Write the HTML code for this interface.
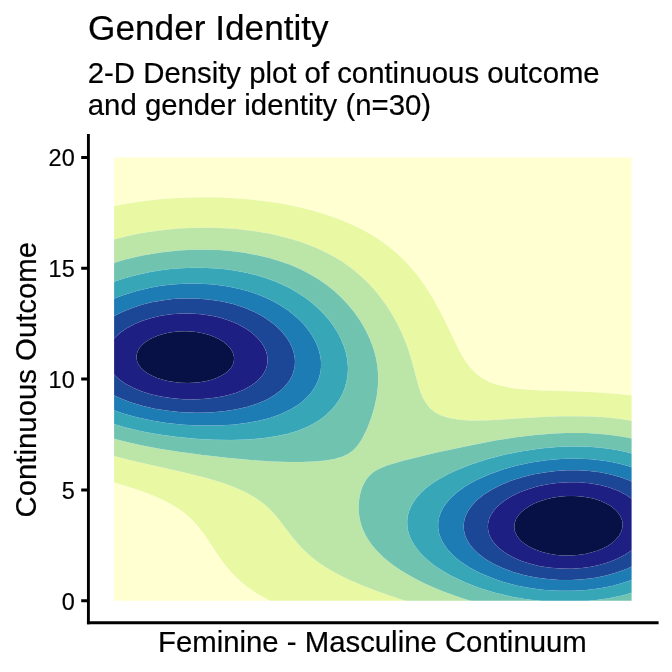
<!DOCTYPE html>
<html><head><meta charset="utf-8"><title>Gender Identity</title>
<style>
html,body{margin:0;padding:0;background:#fff}
body{width:672px;height:672px;overflow:hidden}
svg{display:block;font-family:"Liberation Sans",Arial,Helvetica,sans-serif;fill:#000}
text{stroke:#000;stroke-width:0.2px;stroke-linejoin:round}
</style></head><body>
<svg width="672" height="672" viewBox="0 0 672 672">
<rect width="672" height="672" fill="#fff"/>
<defs><clipPath id="c"><rect x="114.1" y="157.5" width="517.5" height="443.29999999999995"/></clipPath></defs>
<text x="88.1" y="40.2" font-size="35.2" stroke-width="0.3">Gender Identity</text>
<text x="87.8" y="83.4" font-size="29.33">2-D Density plot of continuous outcome</text>
<text x="87.8" y="114.8" font-size="29.33">and gender identity (n=30)</text>
<g clip-path="url(#c)" fill-rule="evenodd">
<path fill="#FFFFD1" d="M94.1,137.5H651.6V620.8H94.1ZM177.3,198.0 190.6,197.5 205.6,197.3 220.6,197.6 234.1,198.2 247.6,199.3 261.1,200.7 273.1,202.3 286.6,204.6 300.1,207.4 310.6,210.0 322.6,213.5 333.1,217.0 343.6,221.0 352.6,224.9 361.6,229.3 370.6,234.3 377.3,238.5 383.9,243.0 389.8,247.5 395.3,252.0 400.6,256.8 406.3,262.5 415.5,273.0 420.1,279.0 425.4,286.5 430.2,294.0 434.6,301.5 443.4,318.0 459.1,350.3 462.8,357.0 466.6,362.9 471.5,369.0 477.1,374.4 483.1,378.7 487.4,381.0 490.6,382.5 496.6,384.6 504.1,386.6 513.1,388.2 522.1,389.3 540.1,390.4 579.1,391.5 598.6,392.4 618.1,393.9 636.1,396.1 636.8,438.0 637.2,486.0 637.2,555.0 636.8,606.0 636.1,606.7 565.6,606.9 282.3,606.0 275.1,603.0 268.7,600.0 257.8,594.0 247.6,587.1 243.1,583.5 238.0,579.0 230.6,571.5 223.3,562.5 218.0,555.0 205.1,535.5 198.3,526.5 194.4,522.0 189.8,517.5 186.4,514.5 181.6,510.8 176.0,507.0 170.9,504.0 163.6,500.2 155.5,496.5 148.1,493.5 135.6,489.0 109.6,480.8 108.7,426.0 108.5,357.0 108.8,276.0 109.6,207.1 126.1,203.8 141.1,201.4 159.1,199.3 177.3,198.0Z"/>
<path fill="#E8F8A3" d="M177.3,198.0 190.6,197.5 205.6,197.3 220.6,197.6 234.1,198.2 247.6,199.3 261.1,200.7 273.1,202.3 286.6,204.6 300.1,207.4 310.6,210.0 322.6,213.5 333.1,217.0 343.6,221.0 352.6,224.9 361.6,229.3 370.6,234.3 377.3,238.5 383.9,243.0 389.8,247.5 395.3,252.0 400.6,256.8 406.3,262.5 415.5,273.0 420.1,279.0 425.4,286.5 430.2,294.0 434.6,301.5 443.4,318.0 459.1,350.3 462.8,357.0 466.6,362.9 471.5,369.0 477.1,374.4 483.1,378.7 487.4,381.0 490.6,382.5 496.6,384.6 504.1,386.6 513.1,388.2 522.1,389.3 540.1,390.4 579.1,391.5 598.6,392.4 618.1,393.9 636.1,396.1 636.8,438.0 637.2,486.0 637.2,555.0 636.8,606.0 636.1,606.7 565.6,606.9 282.3,606.0 275.1,603.0 268.7,600.0 257.8,594.0 247.6,587.1 243.1,583.5 238.0,579.0 230.6,571.5 223.3,562.5 218.0,555.0 205.1,535.5 198.3,526.5 194.4,522.0 189.8,517.5 186.4,514.5 181.6,510.8 176.0,507.0 170.9,504.0 163.6,500.2 155.5,496.5 148.1,493.5 135.6,489.0 109.6,480.8 108.7,426.0 108.5,357.0 108.8,276.0 109.6,207.1 126.1,203.8 141.1,201.4 159.1,199.3 177.3,198.0ZM188.9,228.0 201.1,227.7 213.1,227.8 225.1,228.2 237.1,229.1 249.1,230.4 259.6,231.9 270.1,233.8 280.6,236.2 291.1,238.9 300.1,241.7 309.1,245.0 318.1,248.7 327.1,253.0 334.6,257.0 342.1,261.6 349.8,267.0 355.6,271.5 361.6,276.7 367.2,282.0 372.1,287.2 376.7,292.5 381.4,298.5 385.8,304.5 390.7,312.0 395.0,319.5 399.0,327.0 402.4,334.5 406.1,343.5 408.8,351.0 411.6,360.0 418.8,387.0 420.8,393.0 423.1,398.2 426.2,403.5 428.5,406.5 430.6,408.7 435.5,412.5 441.1,415.4 447.1,417.4 453.1,418.8 460.6,419.8 469.6,420.4 478.6,420.5 489.1,420.2 546.1,416.8 561.1,416.3 576.1,416.2 592.6,416.6 607.6,417.6 622.6,419.3 636.1,421.5 636.8,460.5 637.1,508.5 637.0,564.0 636.5,606.0 636.1,606.4 565.6,606.5 421.9,606.0 405.1,600.8 390.1,595.8 376.8,591.0 363.1,585.7 350.8,580.5 341.3,576.0 332.9,571.5 325.3,567.0 318.6,562.5 312.7,558.0 307.5,553.5 301.6,547.7 293.5,538.5 277.3,517.5 273.4,513.0 268.6,508.1 263.9,504.0 257.9,499.5 250.7,495.0 244.6,491.8 235.6,487.7 227.2,484.5 218.3,481.5 205.6,477.8 184.4,472.5 133.6,461.1 109.6,455.0 108.9,412.5 108.7,357.0 108.9,295.5 109.6,240.8 118.6,238.3 127.6,236.0 138.1,233.8 148.6,232.0 168.1,229.5 178.6,228.6 188.9,228.0Z"/>
<path fill="#BCE6A7" d="M188.9,228.0 201.1,227.7 213.1,227.8 225.1,228.2 237.1,229.1 249.1,230.4 259.6,231.9 270.1,233.8 280.6,236.2 291.1,238.9 300.1,241.7 309.1,245.0 318.1,248.7 327.1,253.0 334.6,257.0 342.1,261.6 349.8,267.0 355.6,271.5 361.6,276.7 367.2,282.0 372.1,287.2 376.7,292.5 381.4,298.5 385.8,304.5 390.7,312.0 395.0,319.5 399.0,327.0 402.4,334.5 406.1,343.5 408.8,351.0 411.6,360.0 418.8,387.0 420.8,393.0 423.1,398.2 426.2,403.5 428.5,406.5 430.6,408.7 435.5,412.5 441.1,415.4 447.1,417.4 453.1,418.8 460.6,419.8 469.6,420.4 478.6,420.5 489.1,420.2 546.1,416.8 561.1,416.3 576.1,416.2 592.6,416.6 607.6,417.6 622.6,419.3 636.1,421.5 636.8,460.5 637.1,508.5 637.0,564.0 636.5,606.0 636.1,606.4 565.6,606.5 421.9,606.0 405.1,600.8 390.1,595.8 376.8,591.0 363.1,585.7 350.8,580.5 341.3,576.0 332.9,571.5 325.3,567.0 318.6,562.5 312.7,558.0 307.5,553.5 301.6,547.7 293.5,538.5 277.3,517.5 273.4,513.0 268.6,508.1 263.9,504.0 257.9,499.5 250.7,495.0 244.6,491.8 235.6,487.7 227.2,484.5 218.3,481.5 205.6,477.8 184.4,472.5 133.6,461.1 109.6,455.0 108.9,412.5 108.7,357.0 108.9,295.5 109.6,240.8 118.6,238.3 127.6,236.0 138.1,233.8 148.6,232.0 168.1,229.5 178.6,228.6 188.9,228.0ZM178.4,250.5 192.1,249.8 205.6,249.7 219.1,250.1 231.1,251.1 244.6,252.8 256.6,255.0 268.6,257.8 279.1,260.9 289.6,264.6 300.1,269.1 309.1,273.7 318.1,279.0 326.8,285.0 334.3,291.0 340.8,297.0 348.1,304.7 354.1,312.0 360.4,321.0 365.6,330.0 369.9,339.0 373.3,348.0 375.8,357.0 377.4,366.0 378.2,375.0 378.0,385.5 376.8,396.0 374.6,406.5 371.6,417.0 367.0,429.0 362.5,438.0 360.1,442.0 357.6,445.5 355.6,447.8 352.6,450.7 348.1,453.9 342.1,456.7 334.6,459.0 325.6,460.6 315.1,461.6 301.6,462.1 288.1,462.1 271.6,461.4 250.6,460.0 226.6,457.7 202.6,455.0 178.6,451.8 159.1,448.7 141.1,445.3 124.6,441.6 109.6,437.6 109.0,402.0 108.8,357.0 109.0,309.0 109.6,264.4 117.1,261.9 126.1,259.3 142.6,255.4 160.6,252.4 178.4,250.5ZM553.9,433.5 565.6,433.0 576.1,432.9 586.6,433.1 597.1,433.7 606.1,434.5 616.6,435.8 627.1,437.5 636.1,439.4 636.7,477.0 636.9,525.0 636.7,570.0 636.1,605.4 633.8,606.0 610.6,606.1 490.8,606.0 481.6,603.8 471.1,600.9 462.1,598.2 451.6,594.6 442.0,591.0 433.6,587.5 424.6,583.4 415.8,579.0 407.7,574.5 400.3,570.0 393.7,565.5 387.8,561.0 382.6,556.5 378.0,552.0 372.7,546.0 369.4,541.5 365.7,535.5 363.5,531.0 361.8,526.5 360.4,522.0 359.2,516.0 358.7,511.5 358.6,505.5 359.0,501.0 359.6,496.5 360.7,492.0 362.1,487.5 364.2,483.0 366.0,480.0 368.2,477.0 371.2,474.0 373.6,472.1 377.7,469.5 382.6,467.2 388.4,465.0 403.8,460.5 436.6,452.6 471.1,445.2 495.1,440.6 516.1,437.3 535.6,434.9 553.9,433.5Z"/>
<path fill="#70C4AF" d="M178.4,250.5 192.1,249.8 205.6,249.7 219.1,250.1 231.1,251.1 244.6,252.8 256.6,255.0 268.6,257.8 279.1,260.9 289.6,264.6 300.1,269.1 309.1,273.7 318.1,279.0 326.8,285.0 334.3,291.0 340.8,297.0 348.1,304.7 354.1,312.0 360.4,321.0 365.6,330.0 369.9,339.0 373.3,348.0 375.8,357.0 377.4,366.0 378.2,375.0 378.0,385.5 376.8,396.0 374.6,406.5 371.6,417.0 367.0,429.0 362.5,438.0 360.1,442.0 357.6,445.5 355.6,447.8 352.6,450.7 348.1,453.9 342.1,456.7 334.6,459.0 325.6,460.6 315.1,461.6 301.6,462.1 288.1,462.1 271.6,461.4 250.6,460.0 226.6,457.7 202.6,455.0 178.6,451.8 159.1,448.7 141.1,445.3 124.6,441.6 109.6,437.6 109.0,402.0 108.8,357.0 109.0,309.0 109.6,264.4 117.1,261.9 126.1,259.3 142.6,255.4 160.6,252.4 178.4,250.5ZM553.9,433.5 565.6,433.0 576.1,432.9 586.6,433.1 597.1,433.7 606.1,434.5 616.6,435.8 627.1,437.5 636.1,439.4 636.7,477.0 636.9,525.0 636.7,570.0 636.1,605.4 633.8,606.0 610.6,606.1 490.8,606.0 481.6,603.8 471.1,600.9 462.1,598.2 451.6,594.6 442.0,591.0 433.6,587.5 424.6,583.4 415.8,579.0 407.7,574.5 400.3,570.0 393.7,565.5 387.8,561.0 382.6,556.5 378.0,552.0 372.7,546.0 369.4,541.5 365.7,535.5 363.5,531.0 361.8,526.5 360.4,522.0 359.2,516.0 358.7,511.5 358.6,505.5 359.0,501.0 359.6,496.5 360.7,492.0 362.1,487.5 364.2,483.0 366.0,480.0 368.2,477.0 371.2,474.0 373.6,472.1 377.7,469.5 382.6,467.2 388.4,465.0 403.8,460.5 436.6,452.6 471.1,445.2 495.1,440.6 516.1,437.3 535.6,434.9 553.9,433.5ZM176.5,268.5 186.1,267.9 196.6,267.7 207.1,267.9 217.6,268.5 228.1,269.6 237.1,271.0 247.6,273.0 256.6,275.3 265.6,278.0 274.6,281.2 282.1,284.4 289.6,288.1 297.1,292.4 304.2,297.0 310.6,301.8 316.6,306.9 323.3,313.5 328.6,319.5 333.1,325.5 337.6,332.6 340.9,339.0 344.0,346.5 345.9,352.5 347.4,360.0 348.0,367.5 347.8,373.5 346.7,381.0 345.1,387.0 342.8,393.0 339.7,399.0 336.1,404.3 331.8,409.5 325.5,415.5 321.7,418.5 317.3,421.5 309.1,426.1 304.6,428.1 298.6,430.5 288.1,433.7 276.1,436.3 262.6,438.3 249.1,439.4 231.1,440.0 213.1,439.7 195.1,438.7 175.6,436.8 157.6,434.3 141.1,431.2 124.6,427.3 109.6,422.8 109.2,393.0 109.0,357.0 109.2,319.5 109.6,283.5 117.1,280.7 124.6,278.2 133.6,275.7 141.1,273.9 150.1,272.0 159.1,270.5 168.1,269.3 176.5,268.5ZM557.3,447.0 567.1,446.6 577.6,446.5 588.1,446.8 598.6,447.6 609.1,448.8 618.1,450.3 627.1,452.2 636.1,454.5 636.6,487.5 636.7,525.0 636.6,561.0 636.1,591.6 622.6,595.4 607.6,598.5 592.6,600.6 576.1,601.9 559.6,602.0 543.1,601.2 526.6,599.3 511.6,596.7 495.1,592.8 480.1,588.2 466.6,583.1 453.1,576.8 447.1,573.6 441.2,570.0 435.1,565.9 430.6,562.5 427.1,559.5 422.3,555.0 419.6,552.0 416.0,547.5 413.0,543.0 411.4,540.0 409.5,535.5 408.1,531.0 407.4,526.5 407.2,522.0 407.5,517.5 408.1,514.5 409.0,511.5 410.7,507.0 413.2,502.5 415.6,499.0 418.9,495.0 421.8,492.0 426.1,488.1 430.7,484.5 435.1,481.5 441.1,477.9 448.3,474.0 454.7,471.0 469.5,465.0 486.1,459.5 504.1,454.8 522.1,451.2 540.1,448.5 557.3,447.0Z"/>
<path fill="#37A7B8" d="M176.5,268.5 186.1,267.9 196.6,267.7 207.1,267.9 217.6,268.5 228.1,269.6 237.1,271.0 247.6,273.0 256.6,275.3 265.6,278.0 274.6,281.2 282.1,284.4 289.6,288.1 297.1,292.4 304.2,297.0 310.6,301.8 316.6,306.9 323.3,313.5 328.6,319.5 333.1,325.5 337.6,332.6 340.9,339.0 344.0,346.5 345.9,352.5 347.4,360.0 348.0,367.5 347.8,373.5 346.7,381.0 345.1,387.0 342.8,393.0 339.7,399.0 336.1,404.3 331.8,409.5 325.5,415.5 321.7,418.5 317.3,421.5 309.1,426.1 304.6,428.1 298.6,430.5 288.1,433.7 276.1,436.3 262.6,438.3 249.1,439.4 231.1,440.0 213.1,439.7 195.1,438.7 175.6,436.8 157.6,434.3 141.1,431.2 124.6,427.3 109.6,422.8 109.2,393.0 109.0,357.0 109.2,319.5 109.6,283.5 117.1,280.7 124.6,278.2 133.6,275.7 141.1,273.9 150.1,272.0 159.1,270.5 168.1,269.3 176.5,268.5ZM557.3,447.0 567.1,446.6 577.6,446.5 588.1,446.8 598.6,447.6 609.1,448.8 618.1,450.3 627.1,452.2 636.1,454.5 636.6,487.5 636.7,525.0 636.6,561.0 636.1,591.6 622.6,595.4 607.6,598.5 592.6,600.6 576.1,601.9 559.6,602.0 543.1,601.2 526.6,599.3 511.6,596.7 495.1,592.8 480.1,588.2 466.6,583.1 453.1,576.8 447.1,573.6 441.2,570.0 435.1,565.9 430.6,562.5 427.1,559.5 422.3,555.0 419.6,552.0 416.0,547.5 413.0,543.0 411.4,540.0 409.5,535.5 408.1,531.0 407.4,526.5 407.2,522.0 407.5,517.5 408.1,514.5 409.0,511.5 410.7,507.0 413.2,502.5 415.6,499.0 418.9,495.0 421.8,492.0 426.1,488.1 430.7,484.5 435.1,481.5 441.1,477.9 448.3,474.0 454.7,471.0 469.5,465.0 486.1,459.5 504.1,454.8 522.1,451.2 540.1,448.5 557.3,447.0ZM167.5,285.0 175.6,284.2 184.6,283.7 193.6,283.5 201.1,283.7 210.1,284.2 217.6,285.0 226.6,286.3 234.1,287.7 241.6,289.4 249.1,291.5 256.6,294.0 264.1,297.0 270.1,299.7 276.4,303.0 282.1,306.4 288.2,310.5 293.9,315.0 299.0,319.5 303.4,324.0 308.3,330.0 312.1,335.5 314.9,340.5 317.0,345.0 319.1,351.0 320.5,357.0 321.0,361.5 321.0,367.5 320.5,372.0 319.0,378.0 317.2,382.5 314.9,387.0 311.9,391.5 309.5,394.5 306.1,398.1 303.1,400.9 298.6,404.4 290.4,409.5 281.0,414.0 270.1,417.9 259.6,420.6 246.1,423.1 232.6,424.7 216.1,425.6 199.6,425.6 183.1,424.7 166.6,422.9 151.6,420.6 136.6,417.3 123.1,413.5 109.6,408.6 109.2,357.0 109.6,300.8 115.6,298.1 123.1,295.2 136.6,290.9 151.6,287.4 159.1,286.1 167.5,285.0ZM560.3,459.0 570.1,458.6 580.6,458.7 591.1,459.3 600.1,460.2 609.1,461.5 618.6,463.5 627.1,465.7 636.1,468.7 636.5,525.0 636.1,578.4 624.1,582.6 612.1,585.9 600.1,588.2 586.6,590.0 573.1,590.8 559.6,590.8 544.6,589.9 531.1,588.2 517.6,585.7 504.1,582.2 492.1,578.1 480.1,573.1 469.6,567.5 460.6,561.5 456.1,558.0 452.8,555.0 447.3,549.0 443.2,543.0 441.6,540.0 439.8,535.5 438.9,532.5 438.2,528.0 438.2,523.5 438.5,520.5 439.1,517.5 440.6,513.0 442.6,508.8 444.6,505.5 448.1,501.0 450.8,498.0 457.5,492.0 465.9,486.0 470.9,483.0 477.1,479.7 489.1,474.4 502.6,469.6 516.1,465.7 531.1,462.5 546.1,460.3 560.3,459.0Z"/>
<path fill="#1D7CB3" d="M167.5,285.0 175.6,284.2 184.6,283.7 193.6,283.5 201.1,283.7 210.1,284.2 217.6,285.0 226.6,286.3 234.1,287.7 241.6,289.4 249.1,291.5 256.6,294.0 264.1,297.0 270.1,299.7 276.4,303.0 282.1,306.4 288.2,310.5 293.9,315.0 299.0,319.5 303.4,324.0 308.3,330.0 312.1,335.5 314.9,340.5 317.0,345.0 319.1,351.0 320.5,357.0 321.0,361.5 321.0,367.5 320.5,372.0 319.0,378.0 317.2,382.5 314.9,387.0 311.9,391.5 309.5,394.5 306.1,398.1 303.1,400.9 298.6,404.4 290.4,409.5 281.0,414.0 270.1,417.9 259.6,420.6 246.1,423.1 232.6,424.7 216.1,425.6 199.6,425.6 183.1,424.7 166.6,422.9 151.6,420.6 136.6,417.3 123.1,413.5 109.6,408.6 109.2,357.0 109.6,300.8 115.6,298.1 123.1,295.2 136.6,290.9 151.6,287.4 159.1,286.1 167.5,285.0ZM560.3,459.0 570.1,458.6 580.6,458.7 591.1,459.3 600.1,460.2 609.1,461.5 618.6,463.5 627.1,465.7 636.1,468.7 636.5,525.0 636.1,578.4 624.1,582.6 612.1,585.9 600.1,588.2 586.6,590.0 573.1,590.8 559.6,590.8 544.6,589.9 531.1,588.2 517.6,585.7 504.1,582.2 492.1,578.1 480.1,573.1 469.6,567.5 460.6,561.5 456.1,558.0 452.8,555.0 447.3,549.0 443.2,543.0 441.6,540.0 439.8,535.5 438.9,532.5 438.2,528.0 438.2,523.5 438.5,520.5 439.1,517.5 440.6,513.0 442.6,508.8 444.6,505.5 448.1,501.0 450.8,498.0 457.5,492.0 465.9,486.0 470.9,483.0 477.1,479.7 489.1,474.4 502.6,469.6 516.1,465.7 531.1,462.5 546.1,460.3 560.3,459.0ZM181.9,298.5 195.1,298.4 208.6,299.4 222.1,301.5 234.1,304.3 244.6,307.8 255.1,312.3 260.2,315.0 265.3,318.0 273.6,324.0 277.6,327.5 281.6,331.5 285.1,335.7 287.5,339.0 289.6,342.5 291.6,346.5 292.8,349.5 294.1,354.0 294.8,358.5 295.0,361.5 294.8,366.0 294.2,369.0 292.9,373.5 291.7,376.5 289.6,380.2 286.9,384.0 284.3,387.0 281.2,390.0 274.6,395.0 267.1,399.4 257.6,403.5 247.6,406.7 235.6,409.5 223.6,411.3 210.1,412.4 196.6,412.7 181.6,412.2 168.1,410.8 154.6,408.7 141.1,405.6 129.6,402.0 118.6,397.6 109.6,393.0 109.4,357.0 109.6,318.7 117.1,314.4 124.6,310.9 133.6,307.4 142.6,304.6 151.6,302.3 162.1,300.4 172.6,299.1 181.9,298.5ZM556.0,471.0 567.1,470.3 579.1,470.3 589.6,471.0 600.1,472.3 610.6,474.4 619.6,476.9 628.3,480.0 636.1,483.6 636.4,525.0 636.1,564.4 627.1,568.7 616.6,572.6 606.1,575.6 595.6,577.7 583.6,579.3 571.6,580.0 559.6,580.0 547.6,579.1 535.6,577.5 523.6,575.0 513.1,572.0 502.6,568.1 493.6,563.8 488.7,561.0 484.6,558.4 478.3,553.5 475.0,550.5 472.3,547.5 469.9,544.5 468.0,541.5 466.4,538.5 465.2,535.5 464.4,532.5 463.8,529.5 463.7,526.5 463.8,523.5 464.3,520.5 465.1,517.5 466.3,514.5 467.8,511.5 469.7,508.5 472.0,505.5 474.7,502.5 477.8,499.5 484.6,494.1 492.9,489.0 501.9,484.5 511.6,480.6 522.1,477.3 532.6,474.6 544.6,472.4 556.0,471.0Z"/>
<path fill="#1C4796" d="M181.9,298.5 195.1,298.4 208.6,299.4 222.1,301.5 234.1,304.3 244.6,307.8 255.1,312.3 260.2,315.0 265.3,318.0 273.6,324.0 277.6,327.5 281.6,331.5 285.1,335.7 287.5,339.0 289.6,342.5 291.6,346.5 292.8,349.5 294.1,354.0 294.8,358.5 295.0,361.5 294.8,366.0 294.2,369.0 292.9,373.5 291.7,376.5 289.6,380.2 286.9,384.0 284.3,387.0 281.2,390.0 274.6,395.0 267.1,399.4 257.6,403.5 247.6,406.7 235.6,409.5 223.6,411.3 210.1,412.4 196.6,412.7 181.6,412.2 168.1,410.8 154.6,408.7 141.1,405.6 129.6,402.0 118.6,397.6 109.6,393.0 109.4,357.0 109.6,318.7 117.1,314.4 124.6,310.9 133.6,307.4 142.6,304.6 151.6,302.3 162.1,300.4 172.6,299.1 181.9,298.5ZM556.0,471.0 567.1,470.3 579.1,470.3 589.6,471.0 600.1,472.3 610.6,474.4 619.6,476.9 628.3,480.0 636.1,483.6 636.4,525.0 636.1,564.4 627.1,568.7 616.6,572.6 606.1,575.6 595.6,577.7 583.6,579.3 571.6,580.0 559.6,580.0 547.6,579.1 535.6,577.5 523.6,575.0 513.1,572.0 502.6,568.1 493.6,563.8 488.7,561.0 484.6,558.4 478.3,553.5 475.0,550.5 472.3,547.5 469.9,544.5 468.0,541.5 466.4,538.5 465.2,535.5 464.4,532.5 463.8,529.5 463.7,526.5 463.8,523.5 464.3,520.5 465.1,517.5 466.3,514.5 467.8,511.5 469.7,508.5 472.0,505.5 474.7,502.5 477.8,499.5 484.6,494.1 492.9,489.0 501.9,484.5 511.6,480.6 522.1,477.3 532.6,474.6 544.6,472.4 556.0,471.0ZM181.2,313.5 190.6,313.5 201.1,314.2 211.6,315.7 220.6,317.8 229.6,320.7 237.5,324.0 245.7,328.5 252.1,333.0 257.0,337.5 259.7,340.5 262.0,343.5 263.8,346.5 265.3,349.5 266.4,352.5 267.1,355.3 267.6,360.0 267.4,363.0 266.8,366.0 265.9,369.0 264.5,372.0 261.5,376.5 257.2,381.0 251.2,385.5 247.6,387.6 243.1,389.9 235.6,392.9 226.6,395.5 216.7,397.5 205.6,398.8 195.1,399.4 183.1,399.2 172.6,398.3 162.1,396.7 151.6,394.4 142.1,391.5 133.6,388.1 125.9,384.0 119.4,379.5 116.0,376.5 113.2,373.5 110.9,370.5 109.6,368.3 109.6,345.1 112.6,340.5 115.1,337.5 120.0,333.0 126.3,328.5 134.7,324.0 142.6,320.7 151.6,317.9 160.6,315.8 171.1,314.2 181.2,313.5ZM556.8,483.0 568.6,482.2 579.1,482.3 589.6,483.3 600.1,485.1 609.2,487.5 618.1,490.8 626.2,495.0 632.7,499.5 636.1,502.5 636.1,546.2 631.2,550.5 624.5,555.0 616.6,559.1 609.1,562.0 600.1,564.7 591.1,566.7 582.1,568.0 571.6,568.7 561.1,568.6 550.6,567.8 540.1,566.2 531.1,564.1 522.1,561.2 514.5,558.0 507.1,554.0 501.1,549.8 496.8,546.0 493.0,541.5 490.3,537.0 489.1,534.0 488.3,531.0 487.8,526.5 488.1,523.5 488.7,520.5 489.7,517.5 491.2,514.5 494.3,510.0 498.5,505.5 504.1,501.0 511.2,496.5 519.1,492.6 528.1,489.2 537.1,486.5 546.4,484.5 556.8,483.0Z"/>
<path fill="#1D2082" d="M181.2,313.5 190.6,313.5 201.1,314.2 211.6,315.7 220.6,317.8 229.6,320.7 237.5,324.0 245.7,328.5 252.1,333.0 257.0,337.5 259.7,340.5 262.0,343.5 263.8,346.5 265.3,349.5 266.4,352.5 267.1,355.3 267.6,360.0 267.4,363.0 266.8,366.0 265.9,369.0 264.5,372.0 261.5,376.5 257.2,381.0 251.2,385.5 247.6,387.6 243.1,389.9 235.6,392.9 226.6,395.5 216.7,397.5 205.6,398.8 195.1,399.4 183.1,399.2 172.6,398.3 162.1,396.7 151.6,394.4 142.1,391.5 133.6,388.1 125.9,384.0 119.4,379.5 116.0,376.5 113.2,373.5 110.9,370.5 109.6,368.3 109.6,345.1 112.6,340.5 115.1,337.5 120.0,333.0 126.3,328.5 134.7,324.0 142.6,320.7 151.6,317.9 160.6,315.8 171.1,314.2 181.2,313.5ZM556.8,483.0 568.6,482.2 579.1,482.3 589.6,483.3 600.1,485.1 609.2,487.5 618.1,490.8 626.2,495.0 632.7,499.5 636.1,502.5 636.1,546.2 631.2,550.5 624.5,555.0 616.6,559.1 609.1,562.0 600.1,564.7 591.1,566.7 582.1,568.0 571.6,568.7 561.1,568.6 550.6,567.8 540.1,566.2 531.1,564.1 522.1,561.2 514.5,558.0 507.1,554.0 501.1,549.8 496.8,546.0 493.0,541.5 490.3,537.0 489.1,534.0 488.3,531.0 487.8,526.5 488.1,523.5 488.7,520.5 489.7,517.5 491.2,514.5 494.3,510.0 498.5,505.5 504.1,501.0 511.2,496.5 519.1,492.6 528.1,489.2 537.1,486.5 546.4,484.5 556.8,483.0ZM177.9,331.5 184.6,331.3 190.6,331.5 196.6,332.1 202.6,333.2 208.6,334.8 214.6,337.0 219.1,339.2 223.6,342.0 227.3,345.0 230.0,348.0 232.0,351.0 233.3,354.0 234.0,357.0 234.1,358.5 233.8,361.5 232.9,364.5 231.2,367.5 228.6,370.5 225.0,373.5 220.6,376.1 216.5,378.0 211.6,379.7 205.6,381.2 199.6,382.2 193.6,382.8 187.6,383.0 180.1,382.7 174.1,382.1 167.8,381.0 162.1,379.6 157.3,378.0 151.6,375.5 147.1,372.9 143.8,370.5 140.7,367.5 138.6,364.5 137.2,361.5 136.5,358.5 136.5,355.5 136.8,354.0 137.8,351.0 139.5,348.0 142.1,345.0 145.5,342.0 150.1,339.1 154.6,336.9 159.1,335.2 165.1,333.5 171.1,332.3 177.9,331.5ZM560.8,496.5 567.1,496.0 574.6,496.0 581.6,496.5 588.1,497.5 594.1,498.8 600.7,501.0 606.1,503.4 610.6,506.0 615.1,509.6 618.3,513.0 620.3,516.0 622.1,520.5 622.6,523.5 622.3,528.0 621.1,532.0 619.2,535.5 615.4,540.0 612.1,542.9 607.6,545.9 603.1,548.3 597.9,550.5 591.1,552.6 585.1,554.0 577.6,555.0 570.1,555.5 562.6,555.4 556.6,554.9 549.1,553.7 543.1,552.3 537.1,550.3 530.7,547.5 525.7,544.5 521.8,541.5 518.9,538.5 516.8,535.5 514.8,531.0 514.3,528.0 514.5,523.5 516.1,519.0 517.9,516.0 520.6,512.8 525.1,508.9 529.6,506.0 534.1,503.6 540.1,501.2 546.1,499.3 553.6,497.6 560.8,496.5Z"/>
<path fill="#081146" d="M177.9,331.5 184.6,331.3 190.6,331.5 196.6,332.1 202.6,333.2 208.6,334.8 214.6,337.0 219.1,339.2 223.6,342.0 227.3,345.0 230.0,348.0 232.0,351.0 233.3,354.0 234.0,357.0 234.1,358.5 233.8,361.5 232.9,364.5 231.2,367.5 228.6,370.5 225.0,373.5 220.6,376.1 216.5,378.0 211.6,379.7 205.6,381.2 199.6,382.2 193.6,382.8 187.6,383.0 180.1,382.7 174.1,382.1 167.8,381.0 162.1,379.6 157.3,378.0 151.6,375.5 147.1,372.9 143.8,370.5 140.7,367.5 138.6,364.5 137.2,361.5 136.5,358.5 136.5,355.5 136.8,354.0 137.8,351.0 139.5,348.0 142.1,345.0 145.5,342.0 150.1,339.1 154.6,336.9 159.1,335.2 165.1,333.5 171.1,332.3 177.9,331.5ZM560.8,496.5 567.1,496.0 574.6,496.0 581.6,496.5 588.1,497.5 594.1,498.8 600.7,501.0 606.1,503.4 610.6,506.0 615.1,509.6 618.3,513.0 620.3,516.0 622.1,520.5 622.6,523.5 622.3,528.0 621.1,532.0 619.2,535.5 615.4,540.0 612.1,542.9 607.6,545.9 603.1,548.3 597.9,550.5 591.1,552.6 585.1,554.0 577.6,555.0 570.1,555.5 562.6,555.4 556.6,554.9 549.1,553.7 543.1,552.3 537.1,550.3 530.7,547.5 525.7,544.5 521.8,541.5 518.9,538.5 516.8,535.5 514.8,531.0 514.3,528.0 514.5,523.5 516.1,519.0 517.9,516.0 520.6,512.8 525.1,508.9 529.6,506.0 534.1,503.6 540.1,501.2 546.1,499.3 553.6,497.6 560.8,496.5Z"/>
<path d="M177.3,198.0 190.6,197.5 205.6,197.3 220.6,197.6 234.1,198.2 247.6,199.3 261.1,200.7 273.1,202.3 286.6,204.6 300.1,207.4 310.6,210.0 322.6,213.5 333.1,217.0 343.6,221.0 352.6,224.9 361.6,229.3 370.6,234.3 377.3,238.5 383.9,243.0 389.8,247.5 395.3,252.0 400.6,256.8 406.3,262.5 415.5,273.0 420.1,279.0 425.4,286.5 430.2,294.0 434.6,301.5 443.4,318.0 459.1,350.3 462.8,357.0 466.6,362.9 471.5,369.0 477.1,374.4 483.1,378.7 487.4,381.0 490.6,382.5 496.6,384.6 504.1,386.6 513.1,388.2 522.1,389.3 540.1,390.4 579.1,391.5 598.6,392.4 618.1,393.9 636.1,396.1 636.8,438.0 637.2,486.0 637.2,555.0 636.8,606.0 636.1,606.7 565.6,606.9 282.3,606.0 275.1,603.0 268.7,600.0 257.8,594.0 247.6,587.1 243.1,583.5 238.0,579.0 230.6,571.5 223.3,562.5 218.0,555.0 205.1,535.5 198.3,526.5 194.4,522.0 189.8,517.5 186.4,514.5 181.6,510.8 176.0,507.0 170.9,504.0 163.6,500.2 155.5,496.5 148.1,493.5 135.6,489.0 109.6,480.8 108.7,426.0 108.5,357.0 108.8,276.0 109.6,207.1 126.1,203.8 141.1,201.4 159.1,199.3 177.3,198.0ZM188.9,228.0 201.1,227.7 213.1,227.8 225.1,228.2 237.1,229.1 249.1,230.4 259.6,231.9 270.1,233.8 280.6,236.2 291.1,238.9 300.1,241.7 309.1,245.0 318.1,248.7 327.1,253.0 334.6,257.0 342.1,261.6 349.8,267.0 355.6,271.5 361.6,276.7 367.2,282.0 372.1,287.2 376.7,292.5 381.4,298.5 385.8,304.5 390.7,312.0 395.0,319.5 399.0,327.0 402.4,334.5 406.1,343.5 408.8,351.0 411.6,360.0 418.8,387.0 420.8,393.0 423.1,398.2 426.2,403.5 428.5,406.5 430.6,408.7 435.5,412.5 441.1,415.4 447.1,417.4 453.1,418.8 460.6,419.8 469.6,420.4 478.6,420.5 489.1,420.2 546.1,416.8 561.1,416.3 576.1,416.2 592.6,416.6 607.6,417.6 622.6,419.3 636.1,421.5 636.8,460.5 637.1,508.5 637.0,564.0 636.5,606.0 636.1,606.4 565.6,606.5 421.9,606.0 405.1,600.8 390.1,595.8 376.8,591.0 363.1,585.7 350.8,580.5 341.3,576.0 332.9,571.5 325.3,567.0 318.6,562.5 312.7,558.0 307.5,553.5 301.6,547.7 293.5,538.5 277.3,517.5 273.4,513.0 268.6,508.1 263.9,504.0 257.9,499.5 250.7,495.0 244.6,491.8 235.6,487.7 227.2,484.5 218.3,481.5 205.6,477.8 184.4,472.5 133.6,461.1 109.6,455.0 108.9,412.5 108.7,357.0 108.9,295.5 109.6,240.8 118.6,238.3 127.6,236.0 138.1,233.8 148.6,232.0 168.1,229.5 178.6,228.6 188.9,228.0ZM178.4,250.5 192.1,249.8 205.6,249.7 219.1,250.1 231.1,251.1 244.6,252.8 256.6,255.0 268.6,257.8 279.1,260.9 289.6,264.6 300.1,269.1 309.1,273.7 318.1,279.0 326.8,285.0 334.3,291.0 340.8,297.0 348.1,304.7 354.1,312.0 360.4,321.0 365.6,330.0 369.9,339.0 373.3,348.0 375.8,357.0 377.4,366.0 378.2,375.0 378.0,385.5 376.8,396.0 374.6,406.5 371.6,417.0 367.0,429.0 362.5,438.0 360.1,442.0 357.6,445.5 355.6,447.8 352.6,450.7 348.1,453.9 342.1,456.7 334.6,459.0 325.6,460.6 315.1,461.6 301.6,462.1 288.1,462.1 271.6,461.4 250.6,460.0 226.6,457.7 202.6,455.0 178.6,451.8 159.1,448.7 141.1,445.3 124.6,441.6 109.6,437.6 109.0,402.0 108.8,357.0 109.0,309.0 109.6,264.4 117.1,261.9 126.1,259.3 142.6,255.4 160.6,252.4 178.4,250.5ZM553.9,433.5 565.6,433.0 576.1,432.9 586.6,433.1 597.1,433.7 606.1,434.5 616.6,435.8 627.1,437.5 636.1,439.4 636.7,477.0 636.9,525.0 636.7,570.0 636.1,605.4 633.8,606.0 610.6,606.1 490.8,606.0 481.6,603.8 471.1,600.9 462.1,598.2 451.6,594.6 442.0,591.0 433.6,587.5 424.6,583.4 415.8,579.0 407.7,574.5 400.3,570.0 393.7,565.5 387.8,561.0 382.6,556.5 378.0,552.0 372.7,546.0 369.4,541.5 365.7,535.5 363.5,531.0 361.8,526.5 360.4,522.0 359.2,516.0 358.7,511.5 358.6,505.5 359.0,501.0 359.6,496.5 360.7,492.0 362.1,487.5 364.2,483.0 366.0,480.0 368.2,477.0 371.2,474.0 373.6,472.1 377.7,469.5 382.6,467.2 388.4,465.0 403.8,460.5 436.6,452.6 471.1,445.2 495.1,440.6 516.1,437.3 535.6,434.9 553.9,433.5ZM176.5,268.5 186.1,267.9 196.6,267.7 207.1,267.9 217.6,268.5 228.1,269.6 237.1,271.0 247.6,273.0 256.6,275.3 265.6,278.0 274.6,281.2 282.1,284.4 289.6,288.1 297.1,292.4 304.2,297.0 310.6,301.8 316.6,306.9 323.3,313.5 328.6,319.5 333.1,325.5 337.6,332.6 340.9,339.0 344.0,346.5 345.9,352.5 347.4,360.0 348.0,367.5 347.8,373.5 346.7,381.0 345.1,387.0 342.8,393.0 339.7,399.0 336.1,404.3 331.8,409.5 325.5,415.5 321.7,418.5 317.3,421.5 309.1,426.1 304.6,428.1 298.6,430.5 288.1,433.7 276.1,436.3 262.6,438.3 249.1,439.4 231.1,440.0 213.1,439.7 195.1,438.7 175.6,436.8 157.6,434.3 141.1,431.2 124.6,427.3 109.6,422.8 109.2,393.0 109.0,357.0 109.2,319.5 109.6,283.5 117.1,280.7 124.6,278.2 133.6,275.7 141.1,273.9 150.1,272.0 159.1,270.5 168.1,269.3 176.5,268.5ZM557.3,447.0 567.1,446.6 577.6,446.5 588.1,446.8 598.6,447.6 609.1,448.8 618.1,450.3 627.1,452.2 636.1,454.5 636.6,487.5 636.7,525.0 636.6,561.0 636.1,591.6 622.6,595.4 607.6,598.5 592.6,600.6 576.1,601.9 559.6,602.0 543.1,601.2 526.6,599.3 511.6,596.7 495.1,592.8 480.1,588.2 466.6,583.1 453.1,576.8 447.1,573.6 441.2,570.0 435.1,565.9 430.6,562.5 427.1,559.5 422.3,555.0 419.6,552.0 416.0,547.5 413.0,543.0 411.4,540.0 409.5,535.5 408.1,531.0 407.4,526.5 407.2,522.0 407.5,517.5 408.1,514.5 409.0,511.5 410.7,507.0 413.2,502.5 415.6,499.0 418.9,495.0 421.8,492.0 426.1,488.1 430.7,484.5 435.1,481.5 441.1,477.9 448.3,474.0 454.7,471.0 469.5,465.0 486.1,459.5 504.1,454.8 522.1,451.2 540.1,448.5 557.3,447.0ZM167.5,285.0 175.6,284.2 184.6,283.7 193.6,283.5 201.1,283.7 210.1,284.2 217.6,285.0 226.6,286.3 234.1,287.7 241.6,289.4 249.1,291.5 256.6,294.0 264.1,297.0 270.1,299.7 276.4,303.0 282.1,306.4 288.2,310.5 293.9,315.0 299.0,319.5 303.4,324.0 308.3,330.0 312.1,335.5 314.9,340.5 317.0,345.0 319.1,351.0 320.5,357.0 321.0,361.5 321.0,367.5 320.5,372.0 319.0,378.0 317.2,382.5 314.9,387.0 311.9,391.5 309.5,394.5 306.1,398.1 303.1,400.9 298.6,404.4 290.4,409.5 281.0,414.0 270.1,417.9 259.6,420.6 246.1,423.1 232.6,424.7 216.1,425.6 199.6,425.6 183.1,424.7 166.6,422.9 151.6,420.6 136.6,417.3 123.1,413.5 109.6,408.6 109.2,357.0 109.6,300.8 115.6,298.1 123.1,295.2 136.6,290.9 151.6,287.4 159.1,286.1 167.5,285.0ZM560.3,459.0 570.1,458.6 580.6,458.7 591.1,459.3 600.1,460.2 609.1,461.5 618.6,463.5 627.1,465.7 636.1,468.7 636.5,525.0 636.1,578.4 624.1,582.6 612.1,585.9 600.1,588.2 586.6,590.0 573.1,590.8 559.6,590.8 544.6,589.9 531.1,588.2 517.6,585.7 504.1,582.2 492.1,578.1 480.1,573.1 469.6,567.5 460.6,561.5 456.1,558.0 452.8,555.0 447.3,549.0 443.2,543.0 441.6,540.0 439.8,535.5 438.9,532.5 438.2,528.0 438.2,523.5 438.5,520.5 439.1,517.5 440.6,513.0 442.6,508.8 444.6,505.5 448.1,501.0 450.8,498.0 457.5,492.0 465.9,486.0 470.9,483.0 477.1,479.7 489.1,474.4 502.6,469.6 516.1,465.7 531.1,462.5 546.1,460.3 560.3,459.0ZM181.9,298.5 195.1,298.4 208.6,299.4 222.1,301.5 234.1,304.3 244.6,307.8 255.1,312.3 260.2,315.0 265.3,318.0 273.6,324.0 277.6,327.5 281.6,331.5 285.1,335.7 287.5,339.0 289.6,342.5 291.6,346.5 292.8,349.5 294.1,354.0 294.8,358.5 295.0,361.5 294.8,366.0 294.2,369.0 292.9,373.5 291.7,376.5 289.6,380.2 286.9,384.0 284.3,387.0 281.2,390.0 274.6,395.0 267.1,399.4 257.6,403.5 247.6,406.7 235.6,409.5 223.6,411.3 210.1,412.4 196.6,412.7 181.6,412.2 168.1,410.8 154.6,408.7 141.1,405.6 129.6,402.0 118.6,397.6 109.6,393.0 109.4,357.0 109.6,318.7 117.1,314.4 124.6,310.9 133.6,307.4 142.6,304.6 151.6,302.3 162.1,300.4 172.6,299.1 181.9,298.5ZM556.0,471.0 567.1,470.3 579.1,470.3 589.6,471.0 600.1,472.3 610.6,474.4 619.6,476.9 628.3,480.0 636.1,483.6 636.4,525.0 636.1,564.4 627.1,568.7 616.6,572.6 606.1,575.6 595.6,577.7 583.6,579.3 571.6,580.0 559.6,580.0 547.6,579.1 535.6,577.5 523.6,575.0 513.1,572.0 502.6,568.1 493.6,563.8 488.7,561.0 484.6,558.4 478.3,553.5 475.0,550.5 472.3,547.5 469.9,544.5 468.0,541.5 466.4,538.5 465.2,535.5 464.4,532.5 463.8,529.5 463.7,526.5 463.8,523.5 464.3,520.5 465.1,517.5 466.3,514.5 467.8,511.5 469.7,508.5 472.0,505.5 474.7,502.5 477.8,499.5 484.6,494.1 492.9,489.0 501.9,484.5 511.6,480.6 522.1,477.3 532.6,474.6 544.6,472.4 556.0,471.0ZM181.2,313.5 190.6,313.5 201.1,314.2 211.6,315.7 220.6,317.8 229.6,320.7 237.5,324.0 245.7,328.5 252.1,333.0 257.0,337.5 259.7,340.5 262.0,343.5 263.8,346.5 265.3,349.5 266.4,352.5 267.1,355.3 267.6,360.0 267.4,363.0 266.8,366.0 265.9,369.0 264.5,372.0 261.5,376.5 257.2,381.0 251.2,385.5 247.6,387.6 243.1,389.9 235.6,392.9 226.6,395.5 216.7,397.5 205.6,398.8 195.1,399.4 183.1,399.2 172.6,398.3 162.1,396.7 151.6,394.4 142.1,391.5 133.6,388.1 125.9,384.0 119.4,379.5 116.0,376.5 113.2,373.5 110.9,370.5 109.6,368.3 109.6,345.1 112.6,340.5 115.1,337.5 120.0,333.0 126.3,328.5 134.7,324.0 142.6,320.7 151.6,317.9 160.6,315.8 171.1,314.2 181.2,313.5ZM556.8,483.0 568.6,482.2 579.1,482.3 589.6,483.3 600.1,485.1 609.2,487.5 618.1,490.8 626.2,495.0 632.7,499.5 636.1,502.5 636.1,546.2 631.2,550.5 624.5,555.0 616.6,559.1 609.1,562.0 600.1,564.7 591.1,566.7 582.1,568.0 571.6,568.7 561.1,568.6 550.6,567.8 540.1,566.2 531.1,564.1 522.1,561.2 514.5,558.0 507.1,554.0 501.1,549.8 496.8,546.0 493.0,541.5 490.3,537.0 489.1,534.0 488.3,531.0 487.8,526.5 488.1,523.5 488.7,520.5 489.7,517.5 491.2,514.5 494.3,510.0 498.5,505.5 504.1,501.0 511.2,496.5 519.1,492.6 528.1,489.2 537.1,486.5 546.4,484.5 556.8,483.0ZM177.9,331.5 184.6,331.3 190.6,331.5 196.6,332.1 202.6,333.2 208.6,334.8 214.6,337.0 219.1,339.2 223.6,342.0 227.3,345.0 230.0,348.0 232.0,351.0 233.3,354.0 234.0,357.0 234.1,358.5 233.8,361.5 232.9,364.5 231.2,367.5 228.6,370.5 225.0,373.5 220.6,376.1 216.5,378.0 211.6,379.7 205.6,381.2 199.6,382.2 193.6,382.8 187.6,383.0 180.1,382.7 174.1,382.1 167.8,381.0 162.1,379.6 157.3,378.0 151.6,375.5 147.1,372.9 143.8,370.5 140.7,367.5 138.6,364.5 137.2,361.5 136.5,358.5 136.5,355.5 136.8,354.0 137.8,351.0 139.5,348.0 142.1,345.0 145.5,342.0 150.1,339.1 154.6,336.9 159.1,335.2 165.1,333.5 171.1,332.3 177.9,331.5ZM560.8,496.5 567.1,496.0 574.6,496.0 581.6,496.5 588.1,497.5 594.1,498.8 600.7,501.0 606.1,503.4 610.6,506.0 615.1,509.6 618.3,513.0 620.3,516.0 622.1,520.5 622.6,523.5 622.3,528.0 621.1,532.0 619.2,535.5 615.4,540.0 612.1,542.9 607.6,545.9 603.1,548.3 597.9,550.5 591.1,552.6 585.1,554.0 577.6,555.0 570.1,555.5 562.6,555.4 556.6,554.9 549.1,553.7 543.1,552.3 537.1,550.3 530.7,547.5 525.7,544.5 521.8,541.5 518.9,538.5 516.8,535.5 514.8,531.0 514.3,528.0 514.5,523.5 516.1,519.0 517.9,516.0 520.6,512.8 525.1,508.9 529.6,506.0 534.1,503.6 540.1,501.2 546.1,499.3 553.6,497.6 560.8,496.5Z" fill="none" stroke="#fff" stroke-opacity="0.06" stroke-width="1"/>
</g>
<g stroke="#000" stroke-width="2.9" fill="none">
<path d="M88.4,134V624.3"/>
<path d="M86.95,622.8H658.6"/>
<path d="M81.2,600.65H87M81.2,489.9H87M81.2,379.1H87M81.2,268.3H87M81.2,157.5H87" stroke-width="3"/>
</g>
<g font-size="23.47" text-anchor="end">
<text x="74.7" y="610">0</text>
<text x="74.7" y="499">5</text>
<text x="74.7" y="388">10</text>
<text x="74.7" y="277">15</text>
<text x="74.7" y="166">20</text>
</g>
<text x="372.4" y="651.5" font-size="29.33" text-anchor="middle">Feminine - Masculine Continuum</text>
<text transform="translate(36.1,379.7) rotate(-90)" font-size="29.33" text-anchor="middle">Continuous Outcome</text>
</svg>
</body></html>
